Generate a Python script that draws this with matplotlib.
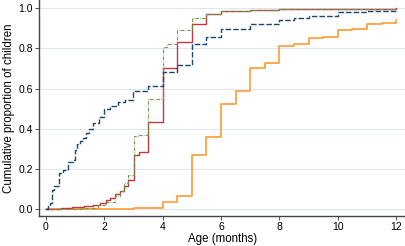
import matplotlib
matplotlib.use("Agg")
import matplotlib.pyplot as plt

plt.rcParams['font.family'] = ['Liberation Sans', 'DejaVu Sans']

blue_x = [0, 0.08, 0.14, 0.22, 0.27, 0.46, 0.6, 0.76, 0.91, 1.0, 1.08, 1.16, 1.28, 1.37, 1.48, 1.62,
          1.82, 2.0, 2.19, 2.47, 2.7, 2.98, 3.5, 4.0, 4.5, 5.0, 5.5, 6.0, 7.0, 8.0, 8.5, 9.0, 10.0, 11.0, 12.0]
blue_y = [0, 0.02, 0.03, 0.096, 0.113, 0.18, 0.196, 0.233, 0.246, 0.295, 0.325, 0.337, 0.354, 0.379, 0.40, 0.43,
          0.46, 0.498, 0.513, 0.535, 0.543, 0.588, 0.613, 0.684, 0.718, 0.82, 0.855, 0.895, 0.92, 0.94, 0.952, 0.963,
          0.98, 0.988, 0.995]

red_x = [0, 0.5, 0.9, 1.3, 1.6, 1.85, 2.05, 2.2, 2.36, 2.53, 2.68, 2.81, 3.0, 3.19, 3.5, 4.0, 4.5, 5.0, 5.5,
         6.0, 7.0, 8.0, 12.0]
red_y = [0, 0.005, 0.01, 0.017, 0.022, 0.03, 0.043, 0.055, 0.075, 0.091, 0.113, 0.146, 0.269, 0.284, 0.435,
         0.704, 0.83, 0.92, 0.972, 0.987, 0.991, 0.996, 1.0]

green_x = [0, 1.0, 1.27, 1.78, 2.05, 2.36, 2.53, 2.68, 2.8, 3.0, 3.2, 3.5, 3.64, 4.0, 4.15, 4.5, 5.0, 5.5,
           6.0, 7.0, 8.0, 12.0]
green_y = [0, 0.003, 0.007, 0.02, 0.035, 0.063, 0.091, 0.13, 0.168, 0.362, 0.37, 0.547, 0.55, 0.809, 0.82,
           0.892, 0.952, 0.972, 0.988, 0.99, 0.995, 1.0]

orange_x = [0, 1.0, 3.0, 3.5, 4.0, 4.5, 5.0, 5.5, 6.0, 6.5, 7.0, 7.5, 8.0, 8.5, 9.0, 9.5, 10.0, 10.5, 11.0,
            11.5, 12.0]
orange_y = [0, 0.002, 0.005, 0.008, 0.035, 0.066, 0.267, 0.357, 0.525, 0.59, 0.70, 0.726, 0.812, 0.822,
            0.852, 0.858, 0.892, 0.897, 0.922, 0.925, 0.94]

x_ticks = [0, 2, 4, 6, 8, 10, 12]
y_ticks = [0.0, 0.2, 0.4, 0.6, 0.8, 1.0]

fig = plt.figure(figsize=(4.06, 2.46), dpi=100)
ax = fig.add_axes([0.096, 0.123, 0.902, 0.877])

ax.step(orange_x, orange_y, where='post', color='#ff9933', lw=1.2)
ax.step(red_x, red_y, where='post', color='#c0393f', lw=1.0)
ax.step(green_x, green_y, where='post', color='#6a9a4a', lw=0.8, dashes=(3, 1.2, 0.6, 1.2))
ax.step(blue_x, blue_y, where='post', color='#1a476f', lw=1.0, dashes=(4, 1.5))

ax.set_xlim(-0.24, 12.31)
ax.set_ylim(-0.033, 1.041)
ax.set_xticks(x_ticks)
ax.set_xticklabels([str(t) for t in x_ticks])
ax.set_yticks(y_ticks)
ax.set_yticklabels([f"{t:.1f}" for t in y_ticks])
ax.tick_params(labelsize=7.5, length=3, width=0.6, color='#333333', pad=1.5)
ax.grid(axis='y', color='#dce6ee', lw=0.7)
ax.set_axisbelow(True)
for s in ['top', 'right']:
    ax.spines[s].set_visible(False)
for s in ['left', 'bottom']:
    ax.spines[s].set_color('#444444')
    ax.spines[s].set_linewidth(1.0)
ax.set_xlabel('Age (months)', fontsize=8.3, labelpad=1)
ax.set_ylabel('Cumulative proportion of children', fontsize=8.3, labelpad=2)

fig.savefig('out.png', dpi=100)
